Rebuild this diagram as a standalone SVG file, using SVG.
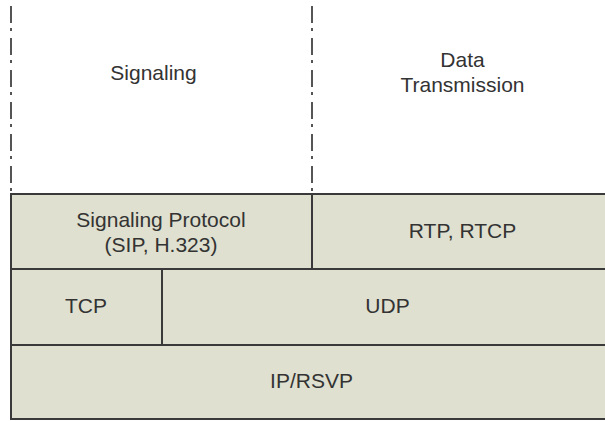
<svg xmlns="http://www.w3.org/2000/svg" width="605" height="421" viewBox="0 0 605 421">
<style>
.box{fill:#dfe0cf;stroke:#3a3a3a;stroke-width:2}
.lbl{font-family:"Liberation Sans",Arial,sans-serif;font-size:21px;fill:#333;text-anchor:middle}
.dd{stroke:#555;stroke-width:2;fill:none;stroke-dasharray:17 5 3 7}
</style>
<rect width="605" height="421" fill="#fff"/>
<g id="connectors">
<line class="dd" x1="11" y1="6" x2="11" y2="195"/>
<line class="dd" x1="312" y1="6" x2="312" y2="195"/>
</g>
<g id="signaling-area"><text class="lbl" x="153.5" y="80">Signaling</text></g>
<g id="data-area"><text class="lbl" x="462.5" y="67">Data</text><text class="lbl" x="462.5" y="92">Transmission</text></g>
<g id="sigproto"><rect class="box" x="11" y="194" width="301" height="75"/><text class="lbl" x="161" y="227">Signaling Protocol</text><text class="lbl" x="161" y="252">(SIP, H.323)</text></g>
<g id="rtp"><rect class="box" x="312" y="194" width="300" height="75"/><text class="lbl" x="462.5" y="238">RTP, RTCP</text></g>
<g id="tcp"><rect class="box" x="11" y="269" width="151" height="76"/><text class="lbl" x="86" y="313">TCP</text></g>
<g id="udp"><rect class="box" x="162" y="269" width="450" height="76"/><text class="lbl" x="387.5" y="313">UDP</text></g>
<g id="ip"><rect class="box" x="11" y="345" width="601" height="74"/><text class="lbl" x="311.5" y="388">IP/RSVP</text></g>
</svg>
